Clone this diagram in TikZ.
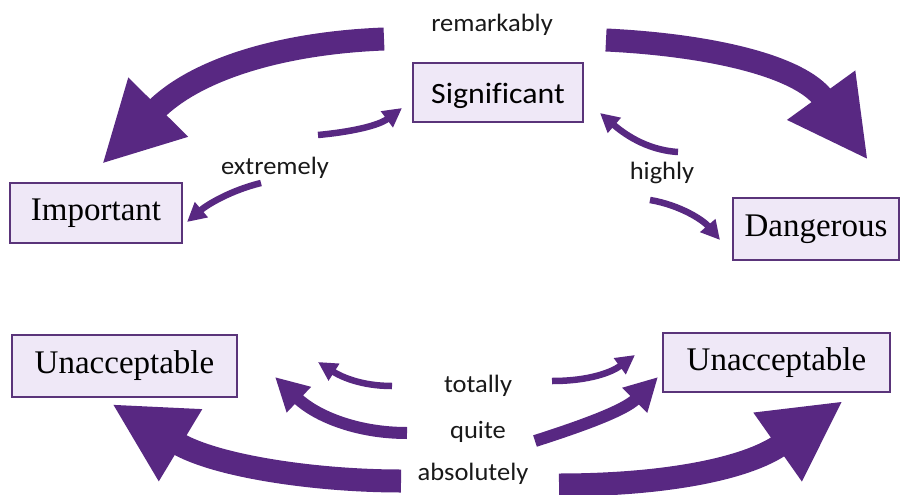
\documentclass[tikz,border=0pt]{standalone}
\usepackage{fontspec}
\setmainfont{Liberation Serif}
\newfontfamily\labfont[FakeStretch=1.06]{Carlito}
\newfontfamily\sigfont[FakeStretch=1.08, Ligatures=NoCommon]{Carlito}
\usetikzlibrary{arrows.meta}
\definecolor{arrowpurple}{RGB}{88,40,130}
\definecolor{boxfill}{RGB}{239,232,247}
\definecolor{boxline}{RGB}{90,52,122}
\tikzset{
  wordbox/.style={draw=boxline, fill=boxfill, line width=1.6pt, inner sep=0pt,
    font=\fontsize{33}{36}\selectfont, text height=22pt, text depth=7pt},
  sigbox/.style={draw=boxline, fill=boxfill, line width=1.6pt, inner sep=0pt,
    font=\sigfont\fontsize{29.5}{32}\selectfont, text height=26pt, text depth=5pt},
  lab/.style={anchor=base, inner sep=0pt, font=\labfont\fontsize{25}{28}\selectfont, text=black!90},
  bigarrow/.style={draw=arrowpurple, line width=23pt,
    -{Triangle[length=80pt, width=78pt]}},
  midarrow/.style={draw=arrowpurple, line width=12pt,
    -{Triangle[length=33pt, width=33pt]}},
  smallarrow/.style={draw=arrowpurple, line width=6.5pt,
    -{Triangle[length=19pt, width=19pt]}}
}
\begin{document}
\begin{tikzpicture}[x=1pt, y=-1pt]
\useasboundingbox (0,0) rectangle (902,495);
% boxes
\node[sigbox, minimum width=170pt, minimum height=59pt] (sig) at (498,92.5) {Significant};
\node[wordbox, minimum width=172pt, minimum height=60pt] (imp) at (96,213) {Important};
\node[wordbox, minimum width=166pt, minimum height=62pt] (dan) at (816,229) {Dangerous};
\node[wordbox, minimum width=225pt, minimum height=62pt] (unl) at (124.5,366) {Unacceptable};
\node[wordbox, minimum width=227pt, minimum height=59pt] (unr) at (776.5,362.5) {Unacceptable};
% labels
\node[lab] (remark) at (492,32) {remarkably};
\node[lab] (extreme) at (275,174) {extremely};
\node[lab] (high) at (662,179) {highly};
\node[lab] (total) at (478,392) {totally};
\node[lab] (quite) at (478,438) {quite};
\node[lab] (absol) at (473,480) {absolutely};
% arrow end points
\coordinate (a1s) at (384,39);  \coordinate (a1e) at (102,164);
\coordinate (a2s) at (606,40);  \coordinate (a2e) at (868,160);
\coordinate (a3s) at (401,481); \coordinate (a3e) at (112,404);
\coordinate (a4s) at (559,485); \coordinate (a4e) at (843,401);
\coordinate (q1s) at (407,433); \coordinate (q1e) at (275,377);
\coordinate (q2s) at (535,441); \coordinate (q2e) at (658,377);
\coordinate (t1s) at (392,386); \coordinate (t1e) at (318,362);
\coordinate (t2s) at (552,381); \coordinate (t2e) at (635,355);
\coordinate (e1s) at (261,183); \coordinate (e1e) at (187,222);
\coordinate (e2s) at (318,135); \coordinate (e2e) at (402,108);
\coordinate (h1s) at (678,152); \coordinate (h1e) at (600,113);
\coordinate (h2s) at (650,200); \coordinate (h2e) at (720,240);
% big arrows
\draw[bigarrow] (a1s) .. controls (280,43) and (195,70) .. (a1e);
\draw[bigarrow] (a2s) .. controls (710,45) and (800,66) .. (a2e);
\draw[bigarrow] (a3s) .. controls (315,481) and (215,466) .. (a3e);
\draw[bigarrow] (a4s) .. controls (660,485) and (745,470) .. (a4e);
% medium arrows
\draw[midarrow] (q1s) .. controls (355,433) and (315,415) .. (q1e);
\draw[midarrow] (q2s) .. controls (585,425) and (625,410) .. (q2e);
% small arrows
\draw[smallarrow] (t1s) .. controls (360,386) and (340,376) .. (t1e);
\draw[smallarrow] (t2s) .. controls (590,381) and (612,372) .. (t2e);
\draw[smallarrow] (e1s) .. controls (232,190) and (208,204) .. (e1e);
\draw[smallarrow] (e2s) .. controls (350,132) and (378,126) .. (e2e);
\draw[smallarrow] (h1s) .. controls (645,150) and (622,132) .. (h1e);
\draw[smallarrow] (h2s) .. controls (680,205) and (703,220) .. (h2e);
\end{tikzpicture}
\end{document}
